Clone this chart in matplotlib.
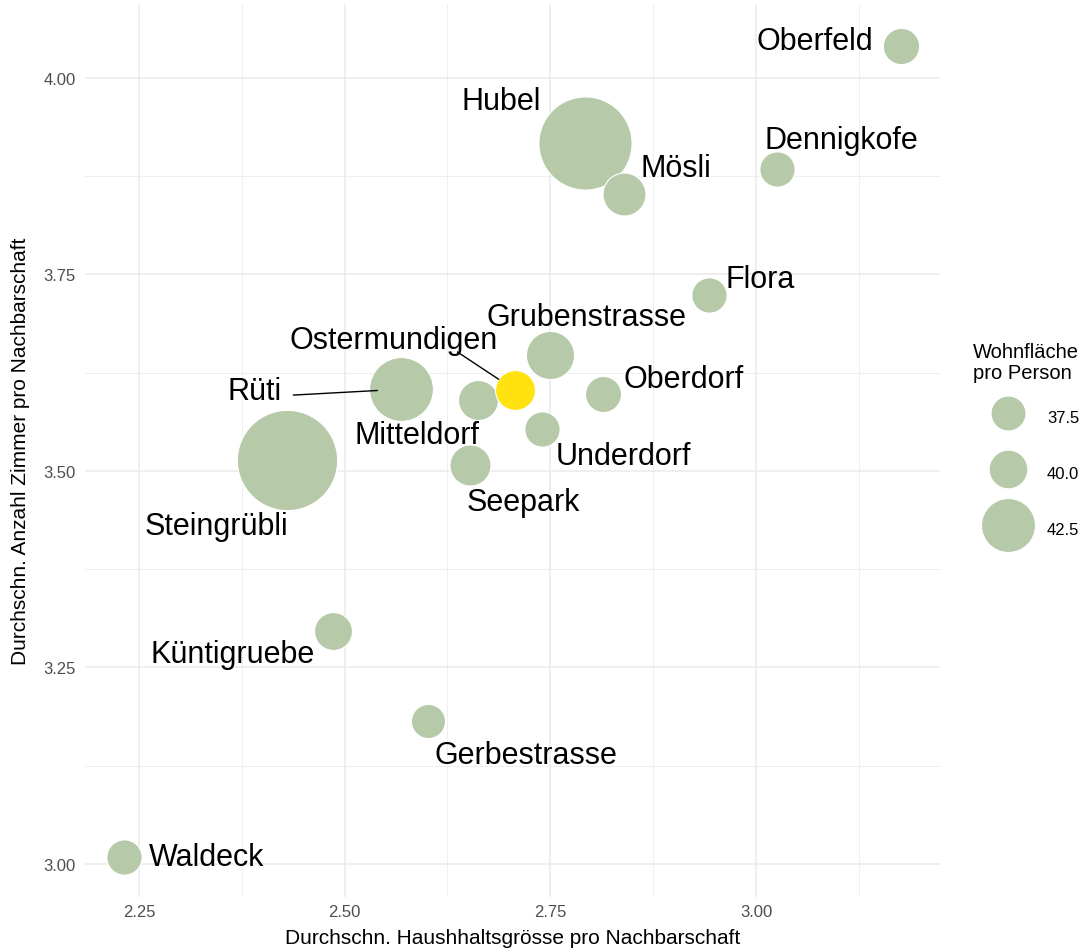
import numpy as np
import matplotlib
matplotlib.use("Agg")
import matplotlib.pyplot as plt
from matplotlib.lines import Line2D

plt.rcParams['font.family'] = ['Liberation Sans', 'DejaVu Sans']

# neighbourhoods
names = ["Oberfeld", "Hubel", "Mösli", "Dennigkofe", "Flora", "Grubenstrasse",
         "Ostermundigen", "Rüti", "Mitteldorf", "Oberdorf", "Underdorf",
         "Steingrübli", "Seepark", "Küntigruebe", "Gerbestrasse", "Waldeck"]
haushalt = [3.176, 2.792, 2.840, 3.026, 2.943, 2.750,
            2.707, 2.568, 2.662, 2.814, 2.740,
            2.430, 2.652, 2.486, 2.601, 2.232]
zimmer = [4.041, 3.917, 3.853, 3.884, 3.724, 3.647,
          3.603, 3.604, 3.590, 3.598, 3.554,
          3.514, 3.507, 3.297, 3.182, 3.009]
wohnflaeche = [38.8, 44.4, 41.1, 37.9, 37.9, 41.9,
               40.4, 43.2, 40.4, 38.6, 37.9,
               44.6, 40.7, 39.7, 35.0, 37.9]
highlight = "Ostermundigen"

x_ticks = [2.25, 2.50, 2.75, 3.00]
y_ticks = [3.00, 3.25, 3.50, 3.75, 4.00]
legend_values = [37.5, 40.0, 42.5]

# label placement (pixels from the bubble centre, up = positive)
label_offsets = {
    "Oberfeld": (-86, 5), "Hubel": (-84, 42), "Mösli": (52, 26),
    "Dennigkofe": (64, 29), "Flora": (51, 16), "Grubenstrasse": (36, 38),
    "Ostermundigen": (-121, 50), "Rüti": (-146, -2), "Mitteldorf": (-61, -35),
    "Oberdorf": (81, 15), "Underdorf": (81, -27), "Steingrübli": (-71, -66),
    "Seepark": (54, -37), "Küntigruebe": (-100, -23), "Gerbestrasse": (98, -34),
    "Waldeck": (82, 0),
}

DPI = 100
PX = 72 / DPI
GREEN = '#B6C9A8'
YELLOW = '#FFE20F'


def bubble_px(v):
    # bubble diameter in pixels
    return 33.8 + 1.178 * np.exp(0.568 * (np.asarray(v) - 37.5))


fig = plt.figure(figsize=(10.87, 9.53), dpi=DPI)
ax = fig.add_axes([85 / 1087, 1 - 898 / 953, 855 / 1087, 893 / 953])

ax.set_xlim(2.1844, 3.2237)
ax.set_ylim(2.958, 4.0941)
ax.set_xticks(x_ticks)
ax.set_yticks(y_ticks)
ax.set_xticks([2.375, 2.625, 2.875, 3.125], minor=True)
ax.set_yticks([3.125, 3.375, 3.625, 3.875], minor=True)
ax.set_xticklabels([f"{t:.2f}" for t in x_ticks])
ax.set_yticklabels([f"{t:.2f}" for t in y_ticks])
ax.grid(which='major', color='#EBEBEB', lw=1.1)
ax.grid(which='minor', color='#EBEBEB', lw=0.55)
ax.set_axisbelow(True)
for s in ax.spines.values():
    s.set_visible(False)
ax.tick_params(which='both', length=0)
ax.tick_params(axis='y', pad=6.7, labelsize=12, labelcolor='#4D4D4D')
ax.tick_params(axis='x', pad=5, labelsize=12, labelcolor='#4D4D4D')

# bubbles: big ones first so the small ones stay visible
order = np.argsort(wohnflaeche)[::-1]
for i in order:
    if names[i] == highlight:
        continue
    d = bubble_px(wohnflaeche[i]) * PX
    ax.scatter(haushalt[i], zimmer[i], s=d ** 2, color=GREEN,
               edgecolor='white', linewidth=0.8, zorder=3)
h = names.index(highlight)
ax.scatter(haushalt[h], zimmer[h], s=(bubble_px(wohnflaeche[h]) * PX) ** 2,
           color=YELLOW, edgecolor='white', linewidth=0.8, zorder=4)

# labels
for i, name in enumerate(names):
    dx, dy = label_offsets[name]
    kw = {}
    if name == "Rüti":
        kw['arrowprops'] = dict(arrowstyle='-', color='black', lw=1.0, patchA=None,
                                relpos=(1, 0.35), shrinkA=8.4, shrinkB=16.7)
    elif name == "Ostermundigen":
        kw['arrowprops'] = dict(arrowstyle='-', color='black', lw=1.0, patchA=None,
                                relpos=(0.805, 0.1), shrinkA=0, shrinkB=14)
    ax.annotate(name, xy=(haushalt[i], zimmer[i]), xytext=(dx * PX, dy * PX),
                textcoords='offset points', ha='center', va='center',
                fontsize=22, color='black', zorder=5, **kw)

ax.set_xlabel("Durchschn. Haushhaltsgrösse pro Nachbarschaft", fontsize=15)
ax.set_ylabel("Durchschn. Anzahl Zimmer pro Nachbarschaft", fontsize=15)
ax.xaxis.set_label_coords(0.5, (898 - 929) / 893)
ax.yaxis.set_label_coords((30 - 85) / 855, 0.5)

# size legend
fig.text(973 / 1087, 1 - 343 / 953, "Wohnfläche\npro Person", ha='left', va='top',
         fontsize=14.5, linespacing=1.12)
handles = [Line2D([], [], ls='none', marker='o', markersize=bubble_px(v) * PX,
                  markerfacecolor=GREEN, markeredgecolor='white', markeredgewidth=0.8)
           for v in legend_values]
fig.legend(handles, [f"{v:.1f}" for v in legend_values], loc='upper left',
           bbox_to_anchor=(991 / 1087, 1 - 405 / 953), frameon=False,
           fontsize=12, handlelength=2.0, handleheight=2.0, labelspacing=1.8,
           handletextpad=1.35, borderpad=0, borderaxespad=0)

fig.savefig("out.png", dpi=DPI)
